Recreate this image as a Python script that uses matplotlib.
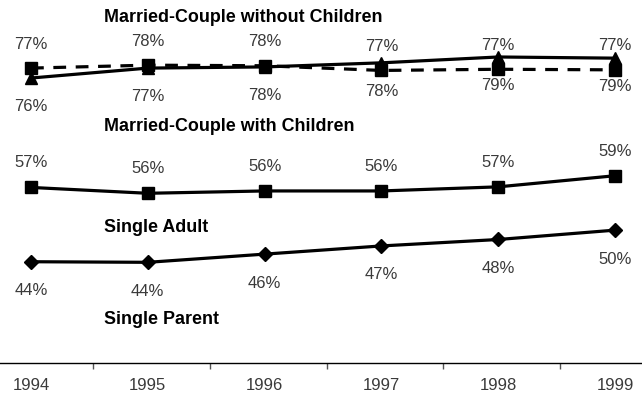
import matplotlib
matplotlib.use("Agg")
import matplotlib.pyplot as plt
import numpy as np

years = ["1994", "1995", "1996", "1997", "1998", "1999"]

# Married-Couple without Children (two measures)
mc_wo_dashed = [77.4, 77.9, 77.8, 77.0, 77.2, 77.1]
mc_wo_dashed_labels = ["77%", "78%", "78%", "77%", "77%", "77%"]
mc_wo_solid = [75.7, 77.4, 77.6, 78.3, 79.3, 79.1]
mc_wo_solid_labels = ["76%", "77%", "78%", "78%", "79%", "79%"]

# Married-Couple with Children
mc_w = [57.0, 56.0, 56.4, 56.4, 57.1, 59.0]
mc_w_labels = ["57%", "56%", "56%", "56%", "57%", "59%"]

# Single Adult
single_adult = [44.3, 44.2, 45.6, 47.0, 48.1, 49.7]
single_adult_labels = ["44%", "44%", "46%", "47%", "48%", "50%"]

group_titles = ["Married-Couple without Children", "Married-Couple with Children",
                "Single Adult", "Single Parent"]

W, H = 642, 398
fig = plt.figure(figsize=(W / 100, H / 100), dpi=100)
ax_bottom_px = 362.7
ax = fig.add_axes([0, (H - ax_bottom_px) / H, 1, ax_bottom_px / H])

x = np.arange(len(years))
lw = 2.3
ax.plot(x, mc_wo_solid, color="black", lw=lw, marker="^", ms=9, zorder=3)
ax.plot(x, mc_wo_dashed, color="black", lw=lw, ls=(0, (4, 3)), marker="s", ms=8, zorder=4)
ax.plot(x, mc_w, color="black", lw=lw, marker="s", ms=8, zorder=3)
ax.plot(x, single_adult, color="black", lw=lw, marker="D", ms=7.5, zorder=3)

ax.set_xlim(-0.2654, 5.231)
ax.set_ylim(27.04, 89.04)

px = 0.72  # points per pixel
lab_font = dict(family="Liberation Sans", size=12, color="#3a3a3a")


def put(vals, labels, off_px):
    for i, (v, t) in enumerate(zip(vals, labels)):
        ax.annotate(t, (i, v), xytext=(0, off_px * px), textcoords="offset points",
                    ha="center", va="baseline", **lab_font)


put(mc_wo_dashed, mc_wo_dashed_labels, 19.5)
put(mc_wo_solid, mc_wo_solid_labels, -33)
put(mc_w, mc_w_labels, 20)
put(single_adult, single_adult_labels, -33.5)

title_baselines = [21.7, 130.7, 231.7, 324]
for t, yb in zip(group_titles, title_baselines):
    fig.text(104 / W, 1 - yb / H, t, ha="left", va="baseline",
             family="Liberation Sans", weight="bold", size=12.9, color="black")

for s in ["top", "left", "right"]:
    ax.spines[s].set_visible(False)
ax.spines["bottom"].set_color("black")
ax.spines["bottom"].set_linewidth(1.0)

ax.set_yticks([])
ax.set_xticks(x)
ax.set_xticklabels(years, family="Liberation Sans", size=12, color="#3a3a3a")
ax.tick_params(axis="x", which="major", length=0, pad=11)
ax.set_xticks(x[:-1] + 0.53, minor=True)
ax.tick_params(axis="x", which="minor", length=4, width=1, color="#555555", direction="out")

fig.savefig("out.png", dpi=100)
